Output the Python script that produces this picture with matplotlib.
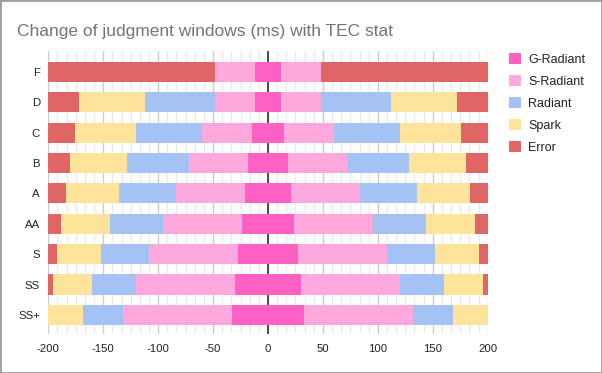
import matplotlib
matplotlib.use('Agg')
import matplotlib.pyplot as plt
from matplotlib.patches import Patch, Rectangle
import numpy as np

# judgment window edges (ms, one side), top row first
categories = ['F', 'D', 'C', 'B', 'A', 'AA', 'S', 'SS', 'SS+']
g_radiant = [12, 12, 15, 18, 21, 24, 27, 30, 33]
s_radiant = [48, 48, 60, 72, 84, 96, 108, 120, 132]
radiant = [48, 112, 120, 128, 136, 144, 152, 160, 168]
spark = [48, 172, 176, 180, 184, 188, 192, 196, 200]
error = [200, 200, 200, 200, 200, 200, 200, 200, 200]

names = ['G-Radiant', 'S-Radiant', 'Radiant', 'Spark', 'Error']
colors = ['#ff60c4', '#fea9de', '#a4c2f4', '#fee49a', '#e06666']

plt.rcParams['font.family'] = ['Liberation Sans', 'DejaVu Sans']
plt.rcParams['axes.unicode_minus'] = False

fig = plt.figure(figsize=(6.02, 3.73), dpi=100)
ax = fig.add_axes([48.3 / 602, 1 - 334 / 373, (487.7 - 48.3) / 602, (334 - 51) / 373])

y = np.arange(len(categories))
h = 0.66

edges = [np.array(g_radiant), np.array(s_radiant), np.array(radiant),
         np.array(spark), np.array(error)]

# centre segment spans -g..g, the rest are mirrored pairs
ax.barh(y, 2 * edges[0], left=-edges[0], height=h, color=colors[0], zorder=3)
for i in range(1, 5):
    inner, outer = edges[i - 1], edges[i]
    ax.barh(y, outer - inner, left=inner, height=h, color=colors[i], zorder=3)
    ax.barh(y, outer - inner, left=-outer, height=h, color=colors[i], zorder=3)

ax.set_xlim(-200, 200)
ax.set_ylim(8.63, -0.69)
ax.set_yticks(y)
ax.set_yticklabels(categories)
ax.set_xticks(np.arange(-200, 201, 50))
ax.set_xticks(np.arange(-200, 201, 50 / 6), minor=True)
ax.grid(axis='x', which='minor', color='#ebebeb', lw=1, zorder=0)
ax.grid(axis='x', which='major', color='#cccccc', lw=1, zorder=1)
ax.axvline(0, color='#333333', lw=1.2, zorder=2)
ax.tick_params(axis='both', which='both', length=0, labelsize=8.2, colors='#222222')
ax.tick_params(axis='x', pad=7)
ax.tick_params(axis='y', pad=6)
for s in ax.spines.values():
    s.set_visible(False)

fig.text(17 / 602, 1 - 36 / 373, 'Change of judgment windows (ms) with TEC stat',
         fontsize=12.5, color='#757575', ha='left', va='baseline')

handles = [Patch(facecolor=c, edgecolor='none') for c in colors]
fig.legend(handles, names, loc='upper left', bbox_to_anchor=(503 / 602, 1 - 47 / 373),
           frameon=False, fontsize=9, handlelength=0.95, handleheight=0.95,
           handletextpad=0.55, labelspacing=0.74, borderpad=0, labelcolor='#222222')

fig.patches.append(Rectangle((0, 0), 1, 1, transform=fig.transFigure, fill=False,
                             edgecolor='#9e9e9e', lw=2))

fig.savefig('out.png', dpi=100)
